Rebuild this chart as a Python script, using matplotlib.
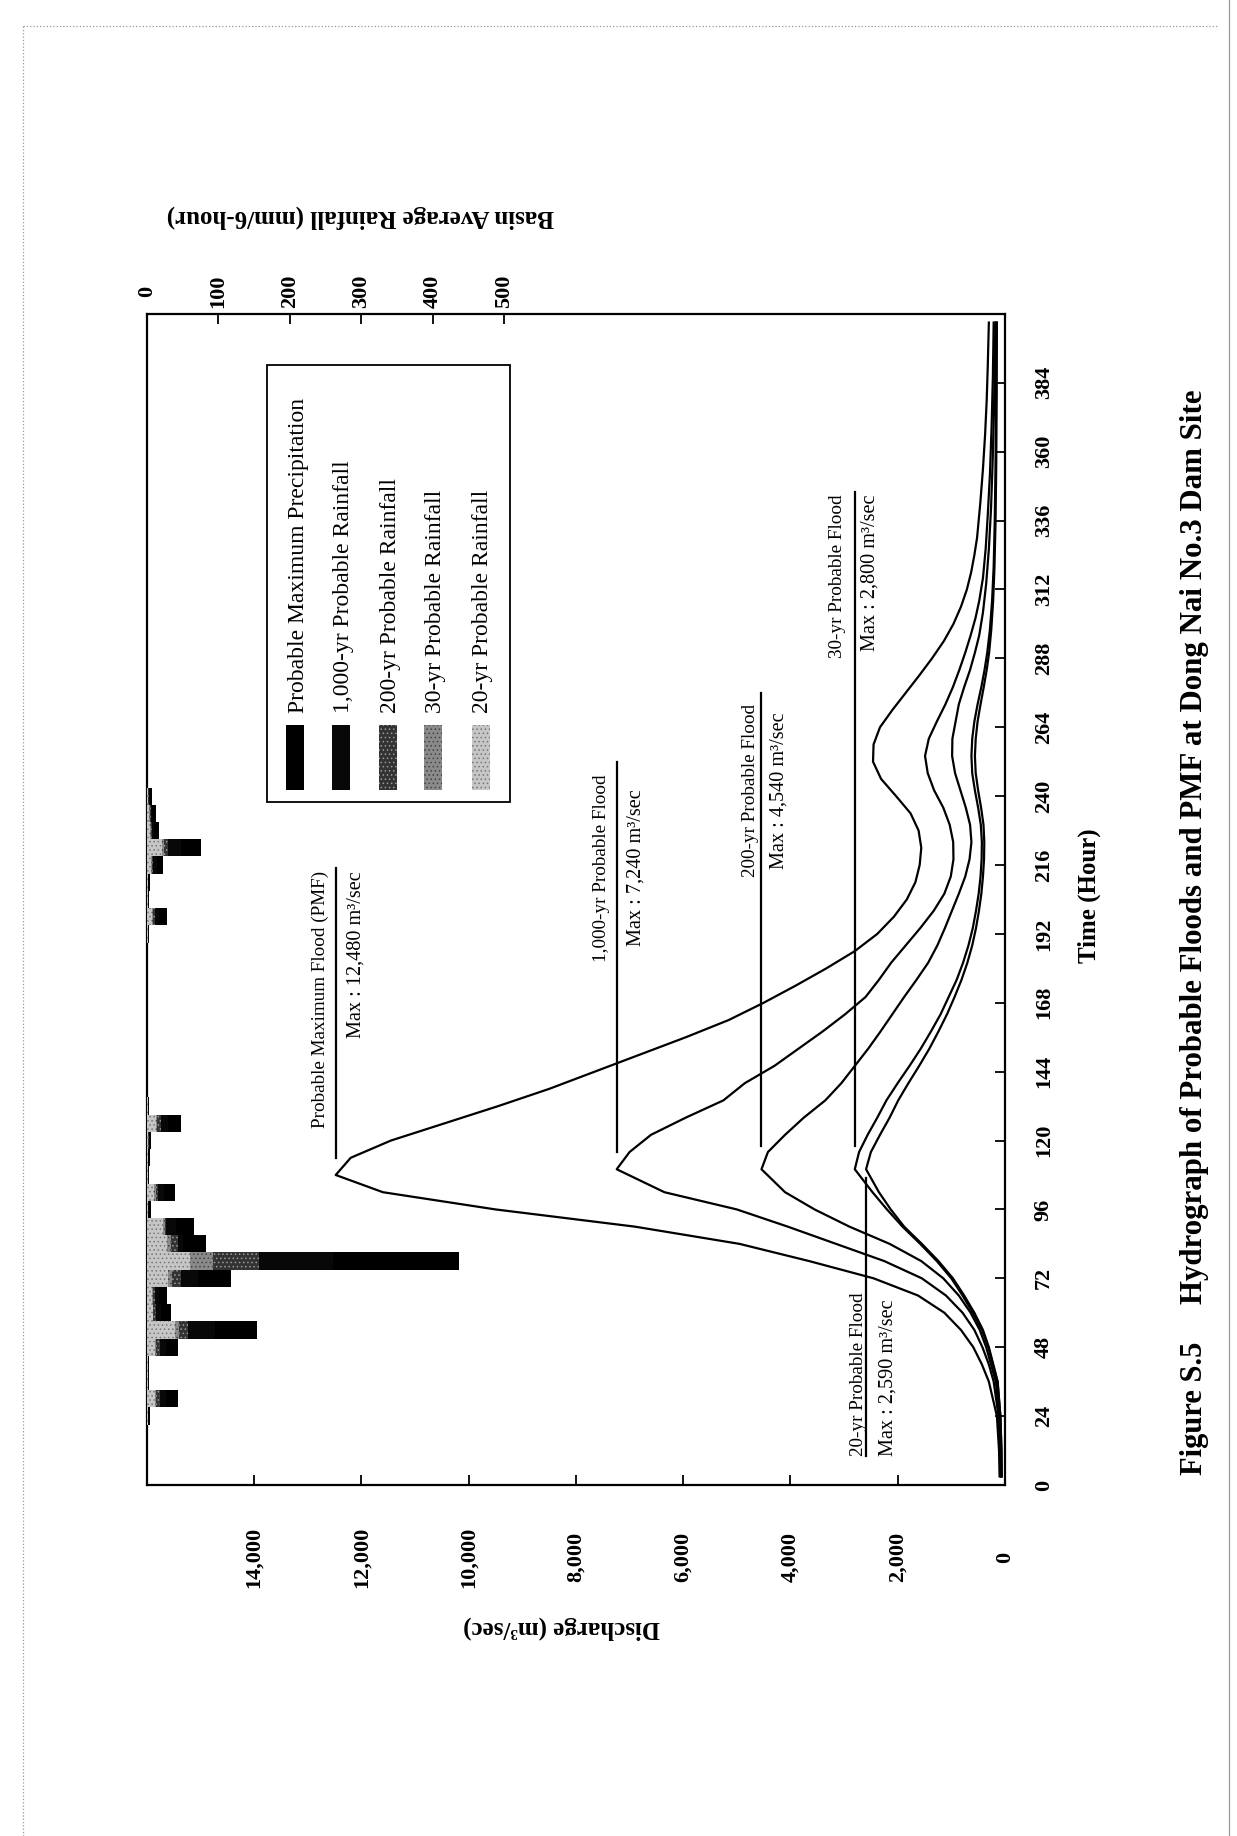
import matplotlib
matplotlib.use("Agg")
import matplotlib.pyplot as plt
from matplotlib.patches import Rectangle
from matplotlib.lines import Line2D

plt.rcParams['font.family'] = ['Liberation Serif', 'DejaVu Serif']
plt.rcParams['hatch.linewidth'] = 0.6

# flood hydrographs: time (hour) and discharge (m3/sec)
pmf_t = [3, 12, 24, 36, 42, 48, 54, 60, 66, 72, 78, 84, 90, 96, 102, 108, 114, 120,
         126, 132, 138, 144, 150, 156, 162, 168, 174, 180, 186, 192, 198, 204, 210,
         216, 222, 228, 234, 240, 246, 252, 258, 264, 270, 276, 282, 288, 294, 300,
         306, 312, 318, 324, 330, 342, 354, 366, 378, 390, 405]
pmf_q = [100, 110, 150, 300, 430, 590, 820, 1130, 1620, 2450, 3650, 4950, 6900, 9500,
         11600, 12480, 12200, 11450, 10450, 9450, 8500, 7650, 6800, 5950, 5150, 4500,
         3900, 3330, 2800, 2380, 2070, 1830, 1670, 1590, 1560, 1610, 1760, 2030, 2310,
         2460, 2450, 2330, 2100, 1850, 1600, 1360, 1140, 960, 820, 710, 630, 570, 520,
         460, 410, 370, 340, 320, 300]

f1000_t = [3, 12, 24, 36, 42, 48, 54, 60, 66, 72, 78, 84, 90, 96, 102, 110, 116, 122,
           128, 134, 140, 146, 152, 158, 164, 170, 176, 182, 188, 194, 200, 206, 212,
           218, 224, 230, 236, 242, 248, 254, 260, 266, 272, 278, 284, 290, 296, 302,
           308, 316, 326, 338, 352, 368, 386, 405]
f1000_q = [80, 90, 120, 210, 300, 420, 570, 790, 1100, 1550, 2250, 3150, 4050, 5000,
           6350, 7240, 7000, 6600, 5950, 5250, 4850, 4300, 3850, 3400, 2980, 2600, 2350,
           2120, 1850, 1580, 1330, 1130, 1010, 960, 965, 1030, 1150, 1320, 1440, 1490,
           1420, 1270, 1110, 970, 850, 740, 640, 550, 480, 410, 360, 320, 280, 250, 225,
           210]

f200_t = [3, 12, 24, 36, 48, 54, 60, 66, 72, 78, 84, 90, 96, 102, 110, 116, 122, 128,
          134, 140, 146, 152, 158, 164, 170, 176, 182, 188, 194, 200, 206, 212, 218,
          224, 230, 236, 242, 248, 254, 260, 266, 272, 278, 284, 290, 296, 304, 314,
          326, 340, 356, 374, 390, 405]
f200_q = [70, 80, 100, 170, 350, 470, 640, 860, 1150, 1560, 2150, 2900, 3550, 4100,
          4540, 4420, 4100, 3750, 3350, 3050, 2800, 2550, 2320, 2100, 1880, 1650, 1430,
          1260, 1120, 990, 860, 740, 660, 625, 650, 730, 830, 930, 985, 980, 920, 860,
          760, 650, 560, 480, 410, 350, 300, 260, 230, 205, 190, 180]

f30_t = [3, 12, 24, 36, 48, 54, 60, 66, 72, 78, 84, 90, 96, 102, 110, 116, 122, 128,
         134, 140, 146, 152, 158, 164, 170, 176, 182, 188, 194, 200, 206, 212, 218, 224,
         230, 236, 242, 248, 254, 260, 266, 272, 278, 284, 290, 298, 308, 320, 336, 356,
         380, 405]
f30_q = [60, 65, 85, 140, 310, 430, 600, 790, 1000, 1270, 1580, 1910, 2200, 2470, 2800,
         2720, 2560, 2380, 2210, 2000, 1780, 1570, 1380, 1200, 1050, 900, 780, 680, 600,
         540, 490, 455, 435, 430, 450, 500, 560, 610, 625, 610, 570, 510, 440, 380, 330,
         280, 240, 210, 190, 175, 165, 160]

f20_t = f30_t
f20_q = [60, 65, 85, 135, 300, 410, 570, 760, 970, 1240, 1550, 1880, 2130, 2350, 2590,
         2500, 2330, 2150, 1990, 1800, 1600, 1410, 1240, 1080, 940, 810, 700, 610, 540,
         485, 440, 410, 390, 385, 400, 445, 500, 545, 560, 545, 510, 455, 395, 340, 295,
         255, 220, 195, 175, 162, 154, 150]

# basin average rainfall (mm / 6-hour)
rain_time = [24, 30, 36, 42, 48, 54, 60, 66, 72, 78, 84, 90, 96, 102, 108, 114, 120,
             126, 132, 192, 198, 204, 210, 216, 222, 228, 234, 240]
rain_pmp = [4, 44, 3, 3, 44, 154, 33, 28, 117, 436, 82, 66, 5, 39, 3, 4, 6, 47, 3, 3,
            28, 3, 4, 23, 76, 17, 12, 7]
rain_1000 = [2, 27, 2, 2, 27, 95, 20, 17, 72, 260, 50, 40, 3, 24, 2, 2, 4, 29, 2, 2,
             17, 2, 2, 14, 47, 10, 7, 4]
rain_200 = [2, 18, 1, 1, 18, 58, 13, 11, 47, 157, 44, 27, 2, 16, 1, 2, 3, 19, 1, 1, 11,
            1, 2, 9, 30, 7, 5, 3]
rain_30 = [1, 13, 1, 1, 13, 45, 9, 8, 35, 92, 34, 25, 2, 12, 1, 1, 2, 14, 1, 1, 8, 1, 1,
           7, 24, 5, 4, 2]
rain_20 = [1, 11, 1, 1, 11, 39, 8, 7, 30, 60, 28, 22, 1, 10, 1, 1, 2, 12, 1, 1, 7, 1, 1,
           6, 21, 4, 3, 2]

rain_names = ['Probable Maximum Precipitation', '1,000-yr Probable Rainfall',
              '200-yr Probable Rainfall', '30-yr Probable Rainfall',
              '20-yr Probable Rainfall']
rain_fill = ['#000000', '#080808', '#333333', '#8a8a8a', '#c6c6c6']
rain_hatch = [None, None, '....', '....', '....']
rain_hcol = ['#000000', '#080808', '#9a9a9a', '#444444', '#777777']

# label text, max discharge, vertical extent of the marker line (hours)
flood_labels = [
    ('Probable Maximum Flood (PMF)', 'Max : 12,480 m³/sec', 12480, 114, 215),
    ('1,000-yr Probable Flood', 'Max : 7,240 m³/sec', 7240, 116, 252),
    ('200-yr Probable Flood', 'Max : 4,540 m³/sec', 4540, 118, 276),
    ('30-yr Probable Flood', 'Max : 2,800 m³/sec', 2800, 118, 346),
    ('20-yr Probable Flood', 'Max : 2,590 m³/sec', 2590, 10, 107),
]

fig = plt.figure(figsize=(12.37, 18.36), dpi=100)
ax = fig.add_axes([0.1188, 0.1912, 0.6936, 0.6378])
ax.set_xlim(16000, 0)
ax.set_ylim(0, 408)

for t, q in [(pmf_t, pmf_q), (f1000_t, f1000_q), (f200_t, f200_q),
             (f30_t, f30_q), (f20_t, f20_q)]:
    ax.plot(q, t, color='black', lw=1.6, solid_joinstyle='round')

# max-discharge markers and their captions
txt = dict(rotation=90, rotation_mode='anchor', va='center')
for (title, mx, q, t0, t1), (qa, qb, tt, ha) in zip(flood_labels, [
        (12760, 12100, 214, 'right'),
        (7530, 6880, 215, 'center'),
        (4750, 4220, 242, 'center'),
        (3130, 2510, 345, 'right'),
        (2740, 2180, 10, 'left')]):
    ax.plot([q, q], [t0, t1], color='black', lw=1.6)
    ax.text(qa, tt, title, ha=ha, fontsize=13.8, **txt)
    ax.text(qb, tt, mx, ha=ha, fontsize=14.6, **txt)

# discharge axis (bottom)
qticks = list(range(0, 16000, 2000))
ax.set_xticks(qticks)
ax.set_xticklabels([f'{v:,}' for v in qticks], rotation=90, fontweight='bold',
                   fontsize=16, va='center')
ax.tick_params(axis='x', direction='in', length=7, width=1.3, pad=52)

# time axis (right)
ax.yaxis.tick_right()
tticks = list(range(0, 385, 24))
ax.set_yticks(tticks)
ax.set_yticklabels([str(v) for v in tticks], rotation=90, fontweight='bold',
                   fontsize=16, ha='center', va='center')
ax.tick_params(axis='y', direction='in', length=7, width=1.3, pad=28)
for s in ax.spines.values():
    s.set_linewidth(1.6)

# rainfall axis (top), bars hanging from the upper edge
ax2 = ax.twiny()
ax2.set_xlim(0, 1200)
for vals, fc, hatch, hc in zip([rain_pmp, rain_1000, rain_200, rain_30, rain_20],
                               rain_fill, rain_hatch, rain_hcol):
    ax2.barh(rain_time, vals, height=6, left=0, color=fc, hatch=hatch,
             edgecolor=hc, linewidth=0)
rticks = list(range(0, 501, 100))
ax2.set_xticks(rticks)
ax2.set_xticklabels([str(v) for v in rticks], rotation=90, fontweight='bold',
                    fontsize=16, va='center')
ax2.tick_params(axis='x', direction='in', length=7, width=1.3, pad=16)
for s in ax2.spines.values():
    s.set_visible(False)

# legend box for the rainfall series
tr = ax2.transAxes
ax2.add_patch(Rectangle((0.140, 0.583), 0.283, 0.373, transform=tr,
                        facecolor='white', edgecolor='black', lw=1.3, zorder=5))
sw_x = [0.172, 0.2261, 0.281, 0.3333, 0.3892]
tx_x = [0.1764, 0.2290, 0.2839, 0.3364, 0.3914]
for i, name in enumerate(rain_names):
    ax2.add_patch(Rectangle((sw_x[i] - 0.0105, 0.5935), 0.021, 0.0555, transform=tr,
                            facecolor=rain_fill[i], hatch=rain_hatch[i],
                            edgecolor=rain_hcol[i], lw=0, zorder=6))
    ax2.text(tx_x[i], 0.659, name, transform=tr, rotation=90, rotation_mode='anchor',
             ha='left', va='center', fontsize=17, zorder=6)

# axis titles
fig.text(0.8804, 0.5120, 'Time (Hour)', rotation=90, fontsize=18, fontweight='bold',
         ha='center', va='center')
fig.text(0.4543, 0.1133, 'Discharge (m³/sec)', rotation=180, fontsize=18,
         fontweight='bold', ha='center', va='center')
fig.text(0.2910, 0.8818, 'Basin Average Rainfall (mm/6-hour)', rotation=180,
         fontsize=18, fontweight='bold', ha='center', va='center')

fig.text(0.966, 0.2331, 'Figure S.5', rotation=90, fontsize=22, fontweight='bold',
         ha='center', va='center')
fig.text(0.966, 0.5390, 'Hydrograph of Probable Floods and PMF at Dong Nai No.3 Dam Site',
         rotation=90, fontsize=22.2, fontweight='bold', ha='center', va='center')

# page frame
for xs, ys, ls in [([0.0186, 0.0186], [0.0, 0.986], ':'),
                   ([0.0186, 0.985], [0.986, 0.986], ':'),
                   ([0.9935, 0.9935], [0.0, 1.0], '-')]:
    fig.add_artist(Line2D(xs, ys, color='#999999', lw=0.9, ls=ls))

fig.savefig('out.png', dpi=100)
